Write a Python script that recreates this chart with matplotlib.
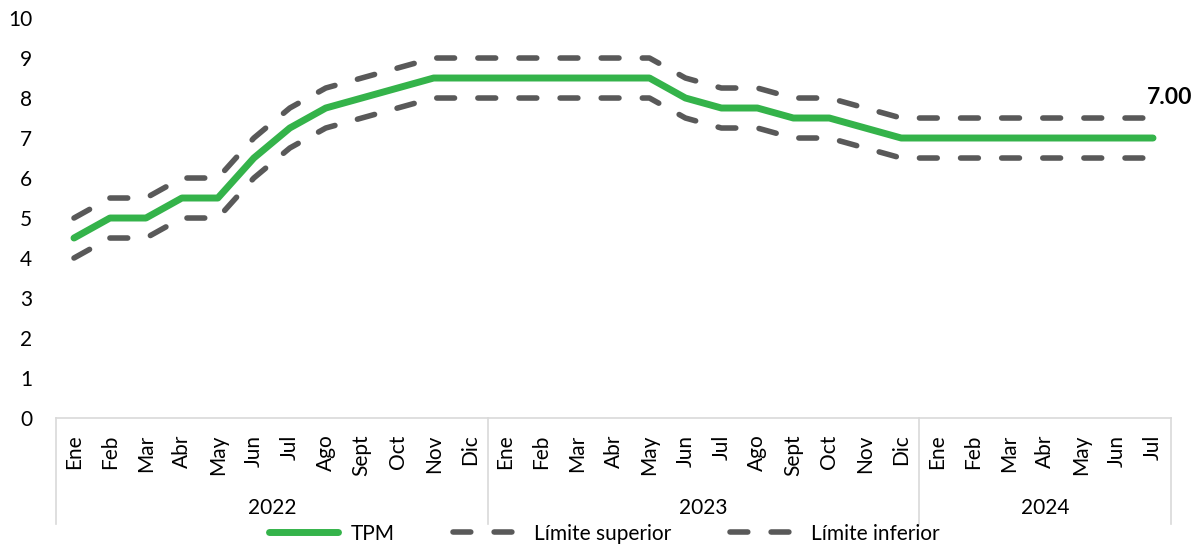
import matplotlib
matplotlib.use("Agg")
import matplotlib.pyplot as plt
import matplotlib.transforms as mtransforms
import numpy as np

plt.rcParams['font.family'] = ['Lato', 'DejaVu Sans']

# data
months = ["Ene", "Feb", "Mar", "Abr", "May", "Jun", "Jul", "Ago", "Sept", "Oct", "Nov", "Dic",
          "Ene", "Feb", "Mar", "Abr", "May", "Jun", "Jul", "Ago", "Sept", "Oct", "Nov", "Dic",
          "Ene", "Feb", "Mar", "Abr", "May", "Jun", "Jul"]
years = ["2022", "2023", "2024"]
year_counts = [12, 12, 7]
tpm = [4.5, 5.0, 5.0, 5.5, 5.5, 6.5, 7.25, 7.75, 8.0, 8.25, 8.5, 8.5,
       8.5, 8.5, 8.5, 8.5, 8.5, 8.0, 7.75, 7.75, 7.5, 7.5, 7.25, 7.0,
       7.0, 7.0, 7.0, 7.0, 7.0, 7.0, 7.0]
upper = [5.0, 5.5, 5.5, 6.0, 6.0, 7.0, 7.75, 8.25, 8.5, 8.75, 9.0, 9.0,
         9.0, 9.0, 9.0, 9.0, 9.0, 8.5, 8.25, 8.25, 8.0, 8.0, 7.75, 7.5,
         7.5, 7.5, 7.5, 7.5, 7.5, 7.5, 7.5]
lower = [4.0, 4.5, 4.5, 5.0, 5.0, 6.0, 6.75, 7.25, 7.5, 7.75, 8.0, 8.0,
         8.0, 8.0, 8.0, 8.0, 8.0, 7.5, 7.25, 7.25, 7.0, 7.0, 6.75, 6.5,
         6.5, 6.5, 6.5, 6.5, 6.5, 6.5, 6.5]

green = "#34b34a"
gray = "#595959"
axis_gray = "#d9d9d9"

fig = plt.figure(figsize=(12.02, 5.46), dpi=100)
ax = fig.add_axes([0.0466, 0.2344, 0.9276, 0.7326])

x = np.arange(len(months))
ax.plot(x, tpm, color=green, lw=5, solid_capstyle="round", solid_joinstyle="round", label="TPM")
ax.plot(x, upper, color=gray, lw=4, dashes=(3.2, 4.2), dash_capstyle="round",
        label="Límite superior")
ax.plot(x, lower, color=gray, lw=4, dashes=(3.2, 4.2), dash_capstyle="round",
        label="Límite inferior")

ax.annotate(f"{tpm[-1]:.2f}", (x[-1], upper[-1]), xytext=(12, 15), textcoords="offset points",
            ha="center", va="center", fontsize=16.5, fontweight="bold")

ax.set_xlim(-0.5, len(months) - 0.5)
ax.set_ylim(0, 10)
ax.set_yticks(range(0, 11))
ax.tick_params(axis="y", length=0, labelsize=15, pad=17)
ax.set_xticks(x)
ax.set_xticklabels(months, rotation=90, fontsize=15)
ax.tick_params(axis="x", length=0, pad=12)

for side in ["top", "right", "left"]:
    ax.spines[side].set_visible(False)
ax.spines["bottom"].set_color(axis_gray)
ax.spines["bottom"].set_linewidth(1.2)

# year groups under the month labels
trans = mtransforms.blended_transform_factory(ax.transData, ax.transAxes)
start = -0.5
bounds = [start]
for name, n in zip(years, year_counts):
    end = start + n
    ax.text((start + end) / 2, -0.225, name, transform=trans, ha="center", va="center", fontsize=15)
    bounds.append(end)
    start = end
for b in bounds:
    ax.plot([b, b], [0, -0.265], transform=trans, color=axis_gray, lw=1.2, clip_on=False)

fig.legend(loc="lower center", bbox_to_anchor=(0.503, -0.03), ncol=3, frameon=False,
           fontsize=15, handlelength=3.3, columnspacing=2.8, handletextpad=0.6)

fig.savefig("out.png", dpi=100)
